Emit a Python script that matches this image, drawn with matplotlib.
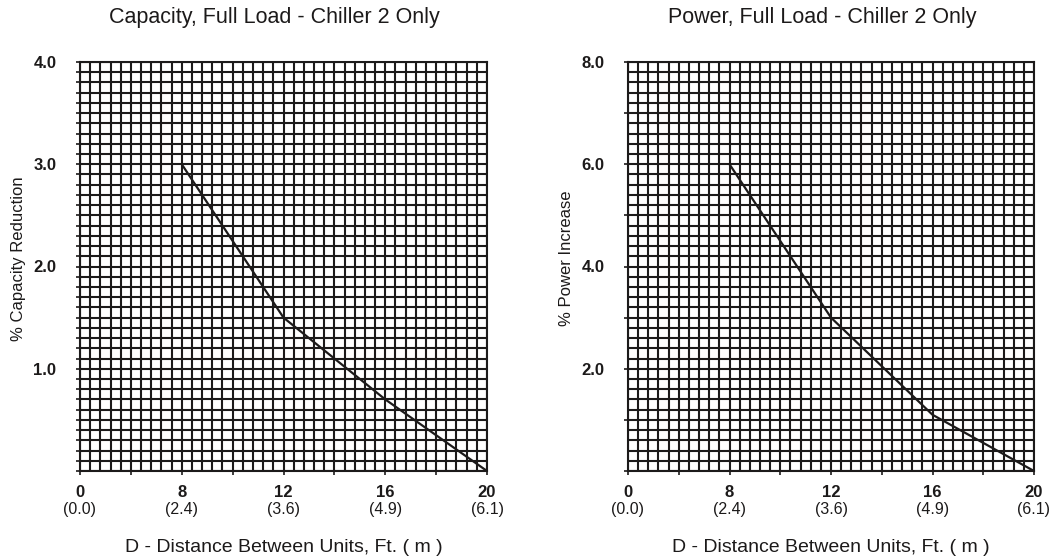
import numpy as np
import matplotlib
matplotlib.use('Agg')
import matplotlib.pyplot as plt

plt.rcParams['font.family'] = ['Liberation Sans', 'DejaVu Sans']

# x axis is not linear: ticks are evenly spaced, labelled with these distances
dist_ft = ['0', '8', '12', '16', '20']
dist_m = ['(0.0)', '(2.4)', '(3.6)', '(4.9)', '(6.1)']

# capacity reduction (%) at D = 8, 12, 16, 20 ft
cap_ft = ['8', '12', '16', '20']
cap_red = [3.0, 1.5, 0.7, 0.0]

# power increase (%) at D = 8, 12, 16, 20 ft
pow_ft = ['8', '12', '16', '20']
pow_inc = [6.0, 3.0, 1.1, 0.0]

ink = '#1c1a1a'


def draw(ax, ft, vals, ymax, ystep, ytick_step, ylabels, title, ylabel):
    x = [dist_ft.index(f) for f in ft]
    xmax = len(dist_ft) - 1

    # graph paper grid, 10 cells per x interval, 40 rows
    ax.vlines(np.arange(0, xmax + 0.001, 0.1), 0, ymax, color=ink, lw=1.5, zorder=1)
    ax.hlines(np.arange(0, ymax + 0.001, ystep), 0, xmax, color=ink, lw=1.5, zorder=1)

    ax.plot(x, vals, color=ink, lw=1.6, zorder=3)

    ax.set_xlim(0, xmax)
    ax.set_ylim(0, ymax)
    for s in ax.spines.values():
        s.set_color(ink)
        s.set_linewidth(1.5)

    xt = np.arange(0, xmax + 0.001, 0.5)
    ax.set_xticks(xt)
    ax.set_xticklabels([dist_ft[int(v)] if v == int(v) else '' for v in xt],
                       fontsize=12, fontweight='bold', color=ink)
    for i, m in enumerate(dist_m):
        ax.text(i, -0.095, m, transform=ax.get_xaxis_transform(),
                ha='center', va='center', fontsize=11.5, color=ink)

    yt = np.arange(0, ymax + 0.001, ytick_step)
    ax.set_yticks(yt)
    ax.set_yticklabels([ylabels.get(round(v, 1), '') for v in yt],
                       fontsize=12, fontweight='bold', color=ink)
    ax.tick_params(axis='both', direction='out', length=3, width=1.2, color=ink)
    ax.tick_params(axis='x', pad=7)
    ax.tick_params(axis='y', pad=14)

    ax.text(0.478, 1 + 45 / 409, title, transform=ax.transAxes,
            ha='center', va='center', fontsize=15.5, color=ink)
    ax.text(0.5, -0.186, 'D - Distance Between Units, Ft. ( m )', transform=ax.transAxes,
            ha='center', va='center', fontsize=14, color=ink)
    ax.text(-0.152, 0.52, ylabel, transform=ax.transAxes, rotation=90,
            ha='center', va='center', fontsize=12, color=ink)


fig = plt.figure(figsize=(10.55, 5.58), dpi=100)
ax1 = fig.add_axes([80 / 1055, 87 / 558, 407 / 1055, 409 / 558])
ax2 = fig.add_axes([628 / 1055, 87 / 558, 406 / 1055, 409 / 558])

draw(ax1, cap_ft, cap_red, 4.0, 0.1, 0.1,
     {1.0: '1.0', 2.0: '2.0', 3.0: '3.0', 4.0: '4.0'},
     'Capacity, Full Load - Chiller 2 Only', '% Capacity Reduction')
draw(ax2, pow_ft, pow_inc, 8.0, 0.2, 1.0,
     {2.0: '2.0', 4.0: '4.0', 6.0: '6.0', 8.0: '8.0'},
     'Power, Full Load - Chiller 2 Only', '% Power Increase')

fig.savefig('out.png', dpi=100, facecolor='white')
